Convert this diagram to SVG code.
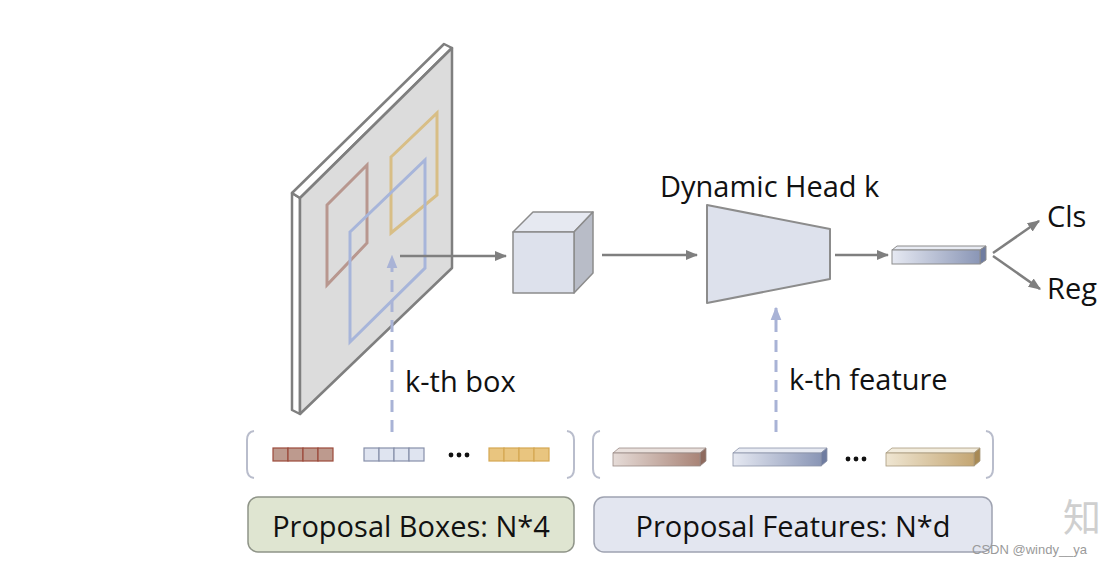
<svg xmlns="http://www.w3.org/2000/svg" width="1110" height="564" viewBox="0 0 1110 564">
<style>
.t{font-family:"Open Sans","Liberation Sans",sans-serif;fill:#111}
.ln{stroke:#7f7f7f;stroke-width:2.5;fill:none}
.dash{stroke:#a9b3d6;stroke-width:3;fill:none;stroke-dasharray:12 8}
.edge{stroke:#8c8c8c;stroke-width:1.5;stroke-linejoin:round}
.br{stroke:#b9bdcc;stroke-width:2;fill:none}
</style>
<defs>
<marker id="ah" viewBox="0 0 10 10" refX="9" refY="5" markerWidth="5" markerHeight="5" orient="auto" markerUnits="strokeWidth"><path d="M0,1 L10,5 L0,9 z" fill="#7f7f7f"/></marker>
<marker id="ahb" viewBox="0 0 10 10" refX="9" refY="5" markerWidth="4.5" markerHeight="4.5" orient="auto" markerUnits="strokeWidth"><path d="M0,1 L10,5 L0,9 z" fill="#a9b3d6"/></marker>
<linearGradient id="gBlue" x1="0" x2="1" y1="0" y2="0"><stop offset="0" stop-color="#e6e9f2"/><stop offset="1" stop-color="#8a96b6"/></linearGradient>
<linearGradient id="gBrown" x1="0" x2="1" y1="0" y2="0"><stop offset="0" stop-color="#e6dcd8"/><stop offset="1" stop-color="#a98477"/></linearGradient>
<linearGradient id="gYel" x1="0" x2="1" y1="0" y2="0"><stop offset="0" stop-color="#efe6d2"/><stop offset="1" stop-color="#c4a673"/></linearGradient>
</defs>
<rect width="1110" height="564" fill="#fff"/>

<g id="feature-map">
<polygon points="292,193 300,198 300,414 292,410" fill="#fff" stroke="#7f7f7f" stroke-width="2.5" stroke-linejoin="round"/>
<polygon points="292,193 444,44 452,48 300,198" fill="#fff" stroke="#7f7f7f" stroke-width="2.5" stroke-linejoin="round"/>
<polygon points="300,198 452,48 452,268 300,414" fill="#dcdcdc" stroke="#7f7f7f" stroke-width="2.5" stroke-linejoin="round"/>
<polygon points="327,205 367,165 367,243 327,285" fill="none" stroke="#b8978f" stroke-width="3"/>
<polygon points="391,157 437,113 437,195 391,233" fill="none" stroke="#d8be86" stroke-width="3"/>
<polygon points="350,232 425,160 425,268 350,342" fill="none" stroke="#a7b5da" stroke-width="3"/>
</g>

<g id="roi-cube">
<polygon points="513,232 533,212 593,212 574,232" fill="#e6e9f1" class="edge"/>
<polygon points="574,232 593,212 593,273 574,293" fill="#b8bcc7" class="edge"/>
<rect x="513" y="232" width="61" height="61" fill="#dde1ec" class="edge"/>
</g>

<g id="dynamic-head">
<polygon points="707,205 830,229 830,279 707,303" fill="#dde1ec" stroke="#8c8c8c" stroke-width="2" stroke-linejoin="round"/>
<text class="t" x="660" y="197" font-size="29">Dynamic Head k</text>
</g>

<g id="output-feature">
<polygon points="892,250 897,246 986,246 980,250" fill="#e8ebf3" stroke="#8c8c8c" stroke-width="1"/>
<polygon points="980,250 986,246 986,260 980,264" fill="#6f7ca0" stroke="#8c8c8c" stroke-width="1"/>
<rect x="892" y="250" width="88" height="14" fill="url(#gBlue)" stroke="#8c8c8c" stroke-width="1"/>
</g>

<g id="cls"><text class="t" x="1047" y="227" font-size="29">Cls</text></g>
<g id="reg"><text class="t" x="1047" y="299" font-size="29">Reg</text></g>

<g id="proposal-boxes">
<path class="br" d="M254,431 Q247,432 247,440 L247,469 Q247,477 254,478"/>
<path class="br" d="M567,431 Q574,432 574,440 L574,469 Q574,477 567,478"/>
<g stroke="#9b4a3a" stroke-width="1.2" fill="#bd9a8e">
<rect x="273" y="448" width="15" height="13"/><rect x="288" y="448" width="15" height="13"/><rect x="303" y="448" width="15" height="13"/><rect x="318" y="448" width="15" height="13"/>
</g>
<g stroke="#8790aa" stroke-width="1.2" fill="#dfe4f0">
<rect x="364" y="448" width="15" height="13"/><rect x="379" y="448" width="15" height="13"/><rect x="394" y="448" width="15" height="13"/><rect x="409" y="448" width="15" height="13"/>
</g>
<g stroke="#d5a752" stroke-width="1.2" fill="#e9c57f">
<rect x="489" y="448" width="15" height="13"/><rect x="504" y="448" width="15" height="13"/><rect x="519" y="448" width="15" height="13"/><rect x="534" y="448" width="15" height="13"/>
</g>
<g fill="#111"><circle cx="451" cy="455" r="2.4"/><circle cx="459" cy="455" r="2.4"/><circle cx="467" cy="455" r="2.4"/></g>
</g>

<g id="proposal-features">
<path class="br" d="M600,431 Q593,432 593,440 L593,469 Q593,477 600,478"/>
<path class="br" d="M986,431 Q993,432 993,440 L993,469 Q993,477 986,478"/>
<polygon points="613,453 619,448 706,448 700,453" fill="#e9e0dc" stroke="#9a8a85" stroke-width="0.8"/>
<polygon points="700,453 706,448 706,461 700,466" fill="#8e6a5e" stroke="#9a8a85" stroke-width="0.8"/>
<rect x="613" y="453" width="87" height="13" fill="url(#gBrown)" stroke="#9a8a85" stroke-width="0.8"/>
<polygon points="733,453 739,448 827,448 821,453" fill="#e8ebf3" stroke="#8c93a8" stroke-width="0.8"/>
<polygon points="821,453 827,448 827,461 821,466" fill="#6f7ca0" stroke="#8c93a8" stroke-width="0.8"/>
<rect x="733" y="453" width="88" height="13" fill="url(#gBlue)" stroke="#8c93a8" stroke-width="0.8"/>
<polygon points="886,453 892,448 980,448 974,453" fill="#f2ecdd" stroke="#a89a7d" stroke-width="0.8"/>
<polygon points="974,453 980,448 980,461 974,466" fill="#a88a55" stroke="#a89a7d" stroke-width="0.8"/>
<rect x="886" y="453" width="88" height="13" fill="url(#gYel)" stroke="#a89a7d" stroke-width="0.8"/>
<g fill="#111"><circle cx="848" cy="459" r="2.4"/><circle cx="856" cy="459" r="2.4"/><circle cx="864" cy="459" r="2.4"/></g>
</g>

<g id="label-boxes">
<rect x="248" y="497" width="326" height="55" rx="10" fill="#dfe5d1" stroke="#8f9488" stroke-width="1.5"/>
<text class="t" x="411" y="537" font-size="29" text-anchor="middle">Proposal Boxes: N*4</text>
</g>
<g id="label-features">
<rect x="594" y="497" width="398" height="55" rx="10" fill="#e3e6f0" stroke="#9fa3b1" stroke-width="1.5"/>
<text class="t" x="793" y="537" font-size="29" text-anchor="middle">Proposal Features: N*d</text>
</g>

<g id="connectors">
<line class="ln" x1="400" y1="256" x2="506" y2="256" marker-end="url(#ah)"/>
<line class="ln" x1="602" y1="255" x2="697" y2="255" marker-end="url(#ah)"/>
<line class="ln" x1="835" y1="255" x2="888" y2="255" marker-end="url(#ah)"/>
<line class="ln" x1="993" y1="253" x2="1039" y2="221" marker-end="url(#ah)"/>
<line class="ln" x1="993" y1="256" x2="1040" y2="289" marker-end="url(#ah)"/>
<line class="dash" x1="392" y1="432" x2="392" y2="256" marker-end="url(#ahb)"/>
<line class="dash" x1="776" y1="432" x2="776" y2="308" marker-end="url(#ahb)"/>
</g>

<g id="k-th-box"><text class="t" x="405" y="392" font-size="29">k-th box</text></g>
<g id="k-th-feature"><text class="t" x="789" y="390" font-size="29">k-th feature</text></g>

<g id="watermark">
<text x="1063" y="531" font-size="38" fill="#cfcfcf" font-family="'Noto Sans CJK SC',sans-serif">知</text>
<text x="972" y="554" font-size="13" fill="#9a9a9a" font-family="'Liberation Sans',sans-serif">CSDN @windy__ya</text>
</g>
</svg>
